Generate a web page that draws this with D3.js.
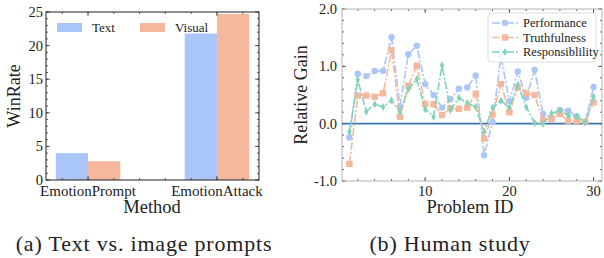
<!DOCTYPE html>
<html>
<head>
<meta charset="utf-8">
<script src="https://cdn.jsdelivr.net/npm/d3@7"></script>
<style>
  body { margin: 0; background: #fff; }
  text { font-family: "Liberation Serif", "Times New Roman", serif; fill: #222; }
</style>
</head>
<body>
<svg id="chart" width="604" height="258"></svg>
<script>
// left panel data
const methods = ["EmotionPrompt", "EmotionAttack"];
const textWin = [4.0, 21.8];
const visualWin = [2.8, 24.7];

// right panel data
const problemIds = d3.range(1, 31);
const performance = [-0.24, 0.87, 0.83, 0.92, 0.92, 1.51, 0.30, 1.21, 1.36, 0.69,
  0.50, 0.28, 0.43, 0.61, 0.63, 0.84, -0.55, 0.03, 1.18, 0.39,
  0.91, 0.45, 0.94, 0.17, 0.10, 0.24, 0.22, 0.13, 0.03, 0.64];
const truthfulness = [-0.70, 0.49, 0.49, 0.47, 0.53, 1.28, 0.12, 0.66, 1.01, 0.34,
  0.34, 0.15, 0.27, 0.26, 0.28, 0.52, -0.26, 0.16, 0.69, 0.20,
  0.63, 0.53, 0.50, 0.06, 0.08, 0.17, 0.05, 0.05, 0.03, 0.37];
const responsibility = [-0.14, 0.76, 0.21, 0.34, 0.29, 0.41, 0.20, 0.60, 0.78, 0.25,
  0.12, 1.02, 0.24, 0.45, 0.36, 0.29, -0.14, 0.28, 0.40, 0.28,
  0.68, 0.29, 0.01, 0.00, 0.18, 0.23, 0.14, 0.13, 0.02, 0.47];

const blue = "#aac6f8", salmon = "#f6b89c", teal = "#7fd3b9";

const svg = d3.select("#chart");

// draws inward ticks on all four sides, like the scienceplots style
function frame(g, x, y, xMajor, xMinor, yMajor, yMinor, x0, x1, y0, y1, frameColor) {
  const tk = g.append("g").attr("stroke", "#333").attr("stroke-width", 0.8);
  xMinor.forEach(v => {
    tk.append("line").attr("x1", x(v)).attr("x2", x(v)).attr("y1", y0).attr("y2", y0 - 2);
    tk.append("line").attr("x1", x(v)).attr("x2", x(v)).attr("y1", y1).attr("y2", y1 + 2);
  });
  xMajor.forEach(v => {
    tk.append("line").attr("x1", x(v)).attr("x2", x(v)).attr("y1", y0).attr("y2", y0 - 4);
    tk.append("line").attr("x1", x(v)).attr("x2", x(v)).attr("y1", y1).attr("y2", y1 + 4);
  });
  yMinor.forEach(v => {
    tk.append("line").attr("y1", y(v)).attr("y2", y(v)).attr("x1", x0).attr("x2", x0 + 2);
    tk.append("line").attr("y1", y(v)).attr("y2", y(v)).attr("x1", x1).attr("x2", x1 - 2);
  });
  yMajor.forEach(v => {
    tk.append("line").attr("y1", y(v)).attr("y2", y(v)).attr("x1", x0).attr("x2", x0 + 4);
    tk.append("line").attr("y1", y(v)).attr("y2", y(v)).attr("x1", x1).attr("x2", x1 - 4);
  });
  g.append("rect")
    .attr("x", x0).attr("y", y1).attr("width", x1 - x0).attr("height", y0 - y1)
    .attr("fill", "none").attr("stroke", frameColor).attr("stroke-width", 1.1);
}

// ---- (a) bar chart
const xa = d3.scaleLinear().domain([-0.326, 1.326]).range([46, 259]);
const ya = d3.scaleLinear().domain([0, 25]).range([180, 12]);
const ga = svg.append("g");
const barW = 0.25;

ga.selectAll("rect.text").data(textWin).join("rect")
  .attr("x", (d, i) => xa(i - barW))
  .attr("width", xa(barW) - xa(0))
  .attr("y", d => ya(d))
  .attr("height", d => ya(0) - ya(d))
  .attr("fill", blue);
ga.selectAll("rect.vis").data(visualWin).join("rect")
  .attr("x", (d, i) => xa(i))
  .attr("width", xa(barW) - xa(0))
  .attr("y", d => ya(d))
  .attr("height", d => ya(0) - ya(d))
  .attr("fill", salmon);

frame(ga, xa, ya, [0, 1], d3.range(-0.2, 1.3, 0.2).map(v => +v.toFixed(1)),
  d3.range(0, 26, 5), d3.range(0, 26, 1), 46, 259, 180, 12, "#333");

ga.selectAll("text.yt").data(d3.range(0, 26, 5)).join("text")
  .attr("x", 43).attr("y", d => ya(d)).attr("dy", "0.35em")
  .attr("text-anchor", "end").attr("font-size", 14.5).text(d => d);
ga.selectAll("text.xt").data(methods).join("text")
  .attr("x", (d, i) => xa(i)).attr("y", 196)
  .attr("text-anchor", "middle").attr("font-size", 15).text(d => d);
ga.append("text").attr("x", 152).attr("y", 213).attr("text-anchor", "middle")
  .attr("font-size", 18.5).text("Method");
ga.append("text").attr("transform", "translate(20,96) rotate(-90)")
  .attr("text-anchor", "middle").attr("font-size", 18).text("WinRate");

// legend (a)
[["Text", blue, 57], ["Visual", salmon, 140]].forEach(([lab, c, lx]) => {
  ga.append("rect").attr("x", lx).attr("y", 23).attr("width", 25).attr("height", 9).attr("fill", c);
  ga.append("text").attr("x", lx + 35).attr("y", 32).attr("font-size", 13).text(lab);
});

svg.append("text").attr("x", 144).attr("y", 251).attr("text-anchor", "middle")
  .attr("font-size", 22).attr("letter-spacing", 0.8).text("(a)  Text vs. image prompts");

// ---- (b) line chart
const xb = d3.scaleLinear().domain([0.12, 31]).range([342, 602]);
const yb = d3.scaleLinear().domain([-1, 2]).range([181, 9]);
const gb = svg.append("g");

frame(gb, xb, yb, [10, 20, 30], d3.range(2, 31, 2), [-1, 0, 1, 2],
  d3.range(-1, 2.01, 0.2).map(v => +v.toFixed(1)), 342, 602, 181, 9, "#bbb");

gb.append("line").attr("x1", 342).attr("x2", 602).attr("y1", yb(0)).attr("y2", yb(0))
  .attr("stroke", "#3a74b2").attr("stroke-width", 1.6);

const series = [
  { name: "Performance", vals: performance, color: blue, marker: "circle" },
  { name: "Truthfulness", vals: truthfulness, color: salmon, marker: "square" },
  { name: "Responsiblility", vals: responsibility, color: teal, marker: "diamond" }
];

function drawMarker(g, type, cx, cy, color) {
  if (type === "circle") {
    g.append("circle").attr("cx", cx).attr("cy", cy).attr("r", 3.2).attr("fill", color);
  } else if (type === "square") {
    g.append("rect").attr("x", cx - 3.2).attr("y", cy - 3.2).attr("width", 6.4).attr("height", 6.4).attr("fill", color);
  } else {
    g.append("path").attr("d", `M${cx},${cy - 4}L${cx + 2.2},${cy}L${cx},${cy + 4}L${cx - 2.2},${cy}Z`).attr("fill", color);
  }
}

const line = d3.line().x((d, i) => xb(problemIds[i])).y(d => yb(d));
series.forEach(s => {
  gb.append("path").datum(s.vals).attr("d", line)
    .attr("fill", "none").attr("stroke", s.color).attr("stroke-width", 1.6)
    .attr("stroke-dasharray", "8,2,2,2");
  s.vals.forEach((v, i) => drawMarker(gb, s.marker, xb(problemIds[i]), yb(v), s.color));
});

gb.selectAll("text.yt").data([-1, 0, 1, 2]).join("text")
  .attr("x", 337).attr("y", d => yb(d)).attr("dy", "0.35em")
  .attr("text-anchor", "end").attr("font-size", 14.5).text(d => d.toFixed(1));
gb.selectAll("text.xt").data([10, 20, 30]).join("text")
  .attr("x", d => xb(d)).attr("y", 196)
  .attr("text-anchor", "middle").attr("font-size", 14.5).text(d => d);
gb.append("text").attr("x", 470).attr("y", 213).attr("text-anchor", "middle")
  .attr("font-size", 18.5).text("Problem ID");
gb.append("text").attr("transform", "translate(307,95) rotate(-90)")
  .attr("text-anchor", "middle").attr("font-size", 18).text("Relative Gain");

// legend (b)
const lg = gb.append("g");
lg.append("rect").attr("x", 488).attr("y", 13).attr("width", 108).attr("height", 49)
  .attr("rx", 3).attr("fill", "#fff").attr("fill-opacity", 0.85)
  .attr("stroke", "#d5d5d5").attr("stroke-width", 0.8);
series.forEach((s, i) => {
  const ly = 23 + i * 14.5;
  lg.append("line").attr("x1", 492).attr("x2", 518).attr("y1", ly).attr("y2", ly)
    .attr("stroke", s.color).attr("stroke-width", 1.6).attr("stroke-dasharray", "8,2,2,2");
  drawMarker(lg, s.marker, 505, ly, s.color);
  lg.append("text").attr("x", 523).attr("y", ly).attr("dy", "0.35em")
    .attr("font-size", 12.5).text(s.name);
});

svg.append("text").attr("x", 450).attr("y", 251).attr("text-anchor", "middle")
  .attr("font-size", 22).attr("letter-spacing", 0.8).text("(b)  Human study");
</script>
</body>
</html>
